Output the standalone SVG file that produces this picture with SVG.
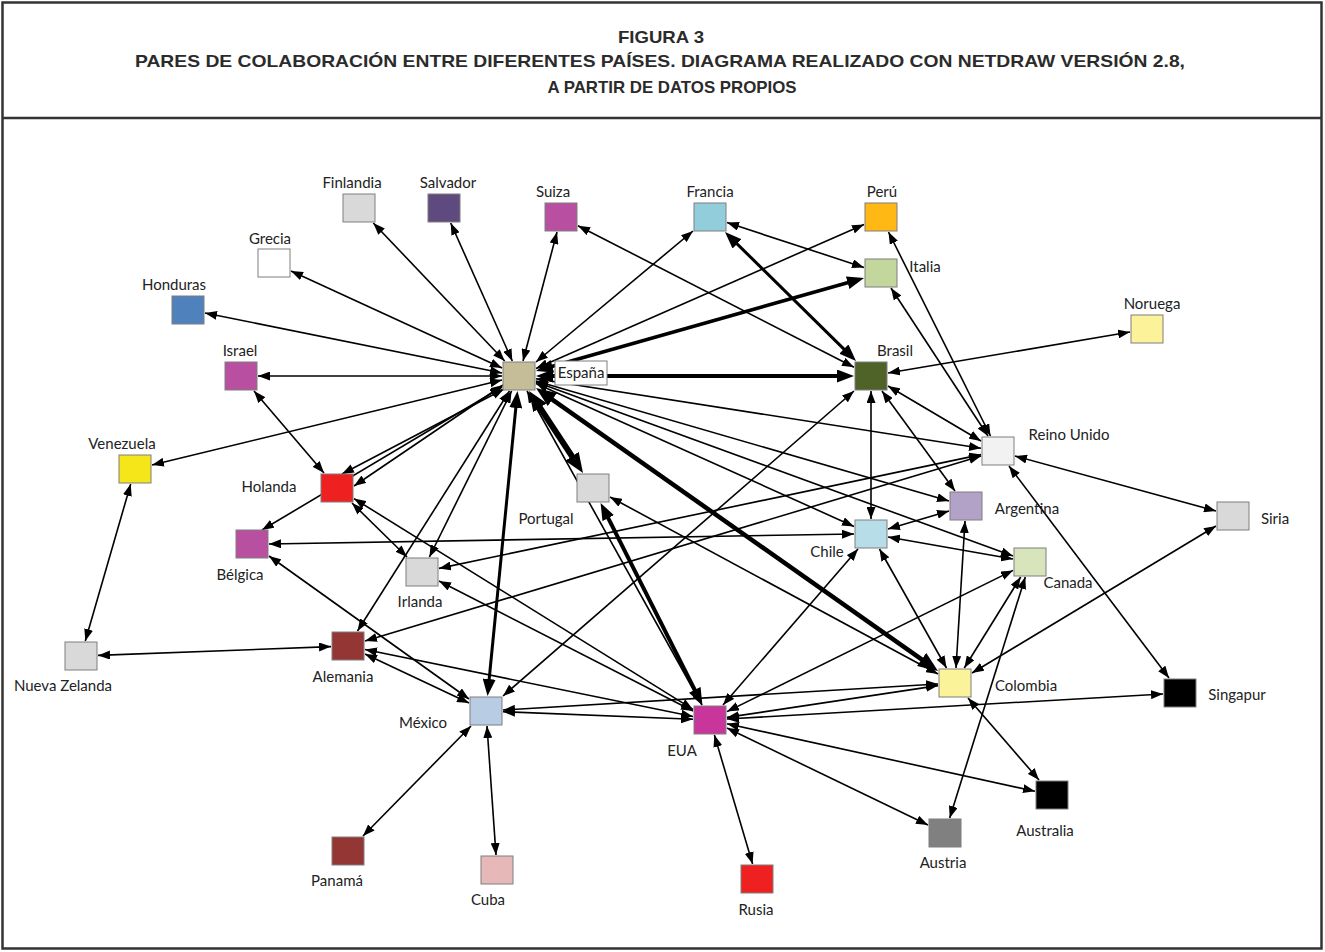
<svg xmlns="http://www.w3.org/2000/svg" width="1325" height="952" viewBox="0 0 1325 952">
<style>
.frame{fill:none;stroke:#333;stroke-width:2.5}
.ttl{font-family:"Liberation Sans",Arial,sans-serif;font-weight:bold;font-size:17px;fill:#2b2b2b;text-anchor:middle}
.e{stroke:#000;stroke-width:1.6;fill:none;marker-start:url(#ma);marker-end:url(#ma)}
.tb{stroke:#000;fill:none;marker-start:url(#mb);marker-end:url(#mb)}
.tc{stroke:#000;fill:none;marker-start:url(#mc);marker-end:url(#mc)}
.n rect{stroke:#7f7f7f;stroke-width:1}
.lb{font-family:Lato,"Open Sans",sans-serif;font-size:15px;fill:#222;text-anchor:middle}
</style>
<defs>
<marker id="ma" viewBox="0 0 12 9" refX="12" refY="4.5" markerWidth="12" markerHeight="9" markerUnits="userSpaceOnUse" orient="auto-start-reverse"><path d="M0,0 L12,4.5 L0,9 z" fill="#000"/></marker>
<marker id="mb" viewBox="0 0 17 13" refX="9" refY="6.5" markerWidth="17" markerHeight="13" markerUnits="userSpaceOnUse" orient="auto-start-reverse"><path d="M0,0 L17,6.5 L0,13 z" fill="#000"/></marker>
<marker id="mc" viewBox="0 0 20 16" refX="10" refY="8" markerWidth="20" markerHeight="16" markerUnits="userSpaceOnUse" orient="auto-start-reverse"><path d="M0,0 L20,8 L0,16 z" fill="#000"/></marker>
</defs>
<rect width="1325" height="952" fill="#fff"/>
<g id="header">
<rect class="frame" x="2.5" y="2.5" width="1319" height="946"/>
<line x1="2" y1="118" x2="1322" y2="118" stroke="#333" stroke-width="2.5"/>
<text class="ttl" x="661" y="43" textLength="86" lengthAdjust="spacingAndGlyphs">FIGURA 3</text>
<text class="ttl" x="660" y="67" textLength="1050" lengthAdjust="spacingAndGlyphs">PARES DE COLABORACIÓN ENTRE DIFERENTES PAÍSES. DIAGRAMA REALIZADO CON NETDRAW VERSIÓN 2.8,</text>
<text class="ttl" x="672" y="93" textLength="249" lengthAdjust="spacingAndGlyphs">A PARTIR DE DATOS PROPIOS</text>
</g>
<g id="connectors">
<line class="e" x1="504.7" y1="361" x2="373.3" y2="223"/>
<line class="e" x1="512.3" y1="361" x2="450.7" y2="223"/>
<line class="e" x1="523" y1="361" x2="557" y2="232"/>
<line class="e" x1="536" y1="362" x2="693" y2="231"/>
<line class="e" x1="536" y1="368.5" x2="864" y2="224.5"/>
<line class="e" x1="502" y1="368" x2="291" y2="271"/>
<line class="e" x1="502" y1="373" x2="205" y2="313"/>
<line class="e" x1="502" y1="376" x2="258" y2="376"/>
<line class="e" x1="502" y1="380" x2="152" y2="465"/>
<line class="e" x1="503" y1="385" x2="354" y2="486"/>
<line class="e" x1="504" y1="389" x2="342" y2="474"/>
<line class="e" x1="502" y1="387" x2="262" y2="530"/>
<line class="e" x1="509.5" y1="391" x2="357.5" y2="631"/>
<line class="e" x1="511.6" y1="391" x2="429.4" y2="557"/>
<line class="e" x1="527" y1="391" x2="702" y2="705"/>
<line class="e" x1="536" y1="378.7" x2="981" y2="448.3"/>
<line class="e" x1="536" y1="381" x2="949" y2="501"/>
<line class="e" x1="536" y1="383.6" x2="854" y2="526.4"/>
<line class="e" x1="536" y1="382" x2="1013" y2="556"/>
<line class="e" x1="578" y1="225.7" x2="854" y2="367.3"/>
<line class="e" x1="727" y1="222.6" x2="864" y2="267.4"/>
<line class="e" x1="888.5" y1="232" x2="990.5" y2="436"/>
<line class="e" x1="891" y1="288" x2="988" y2="436"/>
<line class="e" x1="888" y1="373" x2="1130" y2="332"/>
<line class="e" x1="888" y1="386" x2="981" y2="441"/>
<line class="e" x1="871" y1="391" x2="871" y2="519"/>
<line class="e" x1="882" y1="391" x2="955" y2="491"/>
<line class="e" x1="854" y1="391" x2="503" y2="696"/>
<line class="e" x1="1015" y1="456" x2="1216" y2="511"/>
<line class="e" x1="1009" y1="466" x2="1169" y2="678"/>
<line class="e" x1="981" y1="454.6" x2="439" y2="568.4"/>
<line class="e" x1="981" y1="456" x2="365" y2="641"/>
<line class="e" x1="888" y1="529" x2="949" y2="511"/>
<line class="e" x1="888" y1="537" x2="1013" y2="559"/>
<line class="e" x1="879.5" y1="549" x2="946.5" y2="668"/>
<line class="e" x1="858" y1="549" x2="723" y2="705"/>
<line class="e" x1="1020.7" y1="577" x2="964.3" y2="668"/>
<line class="e" x1="1025.3" y1="577" x2="949.7" y2="818"/>
<line class="e" x1="1013" y1="570.4" x2="727" y2="711.6"/>
<line class="e" x1="965" y1="521" x2="956" y2="668"/>
<line class="e" x1="1216" y1="526" x2="972" y2="673"/>
<line class="e" x1="968" y1="698" x2="1039" y2="780"/>
<line class="e" x1="938" y1="684" x2="503" y2="710"/>
<line class="e" x1="938" y1="685.6" x2="727" y2="717.4"/>
<line class="e" x1="1163" y1="694" x2="727" y2="719"/>
<line class="e" x1="727" y1="723.7" x2="1035" y2="791.3"/>
<line class="e" x1="727" y1="728" x2="928" y2="825"/>
<line class="e" x1="714.4" y1="735" x2="752.6" y2="864"/>
<line class="e" x1="471" y1="726" x2="363" y2="836"/>
<line class="e" x1="487" y1="726" x2="496" y2="855"/>
<line class="e" x1="503" y1="711.7" x2="693" y2="719.3"/>
<line class="e" x1="365" y1="654" x2="469" y2="703"/>
<line class="e" x1="365" y1="649.5" x2="693" y2="716.5"/>
<line class="e" x1="331" y1="646.6" x2="98" y2="655.4"/>
<line class="e" x1="130.7" y1="484" x2="85.3" y2="641"/>
<line class="e" x1="254" y1="391" x2="324" y2="473"/>
<line class="e" x1="352" y1="503" x2="407" y2="557"/>
<line class="e" x1="354" y1="498.6" x2="693" y2="709.4"/>
<line class="e" x1="269" y1="556" x2="469" y2="699"/>
<line class="e" x1="269" y1="544" x2="854" y2="534"/>
<line class="e" x1="439" y1="581" x2="693" y2="711"/>
<line class="e" x1="610" y1="497" x2="938" y2="674"/>
<line class="tb" stroke-width="3.5" x1="543.7" y1="368.8" x2="856.3" y2="280.2"/>
<line class="tb" stroke-width="4" x1="544" y1="376" x2="846" y2="376"/>
<line class="tb" stroke-width="3" x1="516.7" y1="399" x2="488.3" y2="688"/>
<line class="tc" stroke-width="6" x1="534.5" y1="399.4" x2="577.5" y2="464.6"/>
<line class="tc" stroke-width="4.5" x1="544.2" y1="393.8" x2="929.8" y2="665.2"/>
<line class="tb" stroke-width="3" x1="730.7" y1="237.6" x2="850.3" y2="355.4"/>
<line class="tb" stroke-width="4" x1="604.2" y1="510.1" x2="698.8" y2="697.9"/>
</g>
<g id="n-finlandia" class="n"><rect x="343" y="194" width="32" height="28" fill="#d9d9d9"/><text class="lb" x="352" y="188">Finlandia</text></g>
<g id="n-salvador" class="n"><rect x="428" y="194" width="32" height="28" fill="#5f4a7f"/><text class="lb" x="448" y="188">Salvador</text></g>
<g id="n-suiza" class="n"><rect x="545" y="203" width="32" height="28" fill="#b84fa0"/><text class="lb" x="553" y="197">Suiza</text></g>
<g id="n-francia" class="n"><rect x="694" y="203" width="32" height="28" fill="#92cddc"/><text class="lb" x="710" y="197">Francia</text></g>
<g id="n-peru" class="n"><rect x="865" y="203" width="32" height="28" fill="#ffb814"/><text class="lb" x="882" y="197">Perú</text></g>
<g id="n-italia" class="n"><rect x="865" y="259" width="32" height="28" fill="#c3d69b"/><text class="lb" x="925" y="272">Italia</text></g>
<g id="n-grecia" class="n"><rect x="258" y="249" width="32" height="28" fill="#ffffff"/><text class="lb" x="270" y="244">Grecia</text></g>
<g id="n-honduras" class="n"><rect x="172" y="296" width="32" height="28" fill="#4f81bd"/><text class="lb" x="174" y="290">Honduras</text></g>
<g id="n-noruega" class="n"><rect x="1131" y="315" width="32" height="28" fill="#fcf29a"/><text class="lb" x="1152" y="309">Noruega</text></g>
<g id="n-israel" class="n"><rect x="225" y="362" width="32" height="28" fill="#b84fa0"/><text class="lb" x="240" y="356">Israel</text></g>
<g id="n-espana" class="n"><rect x="503" y="362" width="32" height="28" fill="#c4bd97"/><rect x="555" y="361" width="52" height="24" fill="#fff" stroke="#000"/><text class="lb" x="581" y="378">España</text></g>
<g id="n-brasil" class="n"><rect x="855" y="362" width="32" height="28" fill="#4f6228"/><text class="lb" x="895" y="356">Brasil</text></g>
<g id="n-reinounido" class="n"><rect x="982" y="437" width="32" height="28" fill="#f2f2f2"/><text class="lb" x="1069" y="440">Reino Unido</text></g>
<g id="n-venezuela" class="n"><rect x="119" y="455" width="32" height="28" fill="#f5e61a"/><text class="lb" x="122" y="449">Venezuela</text></g>
<g id="n-holanda" class="n"><rect x="321" y="474" width="32" height="28" fill="#ee2020"/><text class="lb" x="269" y="492">Holanda</text></g>
<g id="n-portugal" class="n"><rect x="577" y="474" width="32" height="28" fill="#d9d9d9"/><text class="lb" x="546" y="524">Portugal</text></g>
<g id="n-argentina" class="n"><rect x="950" y="492" width="32" height="28" fill="#b2a2c7"/><text class="lb" x="1027" y="514">Argentina</text></g>
<g id="n-siria" class="n"><rect x="1217" y="502" width="32" height="28" fill="#d9d9d9"/><text class="lb" x="1275" y="524">Siria</text></g>
<g id="n-belgica" class="n"><rect x="236" y="530" width="32" height="28" fill="#b84fa0"/><text class="lb" x="240" y="580">Bélgica</text></g>
<g id="n-chile" class="n"><rect x="855" y="520" width="32" height="28" fill="#b7dde8"/><text class="lb" x="827" y="557">Chile</text></g>
<g id="n-irlanda" class="n"><rect x="406" y="558" width="32" height="28" fill="#d9d9d9"/><text class="lb" x="420" y="607">Irlanda</text></g>
<g id="n-canada" class="n"><rect x="1014" y="548" width="32" height="28" fill="#d7e4bc"/><text class="lb" x="1068" y="588">Canada</text></g>
<g id="n-nuevazelanda" class="n"><rect x="65" y="642" width="32" height="28" fill="#d9d9d9"/><text class="lb" x="63" y="691">Nueva Zelanda</text></g>
<g id="n-alemania" class="n"><rect x="332" y="632" width="32" height="28" fill="#943634"/><text class="lb" x="343" y="682">Alemania</text></g>
<g id="n-colombia" class="n"><rect x="939" y="669" width="32" height="28" fill="#faf39a"/><text class="lb" x="1026" y="691">Colombia</text></g>
<g id="n-singapur" class="n"><rect x="1164" y="679" width="32" height="28" fill="#000000"/><text class="lb" x="1237" y="700">Singapur</text></g>
<g id="n-mexico" class="n"><rect x="470" y="697" width="32" height="28" fill="#b8cce4"/><text class="lb" x="423" y="728">México</text></g>
<g id="n-eua" class="n"><rect x="694" y="706" width="32" height="28" fill="#c9369b"/><text class="lb" x="682" y="756">EUA</text></g>
<g id="n-australia" class="n"><rect x="1036" y="781" width="32" height="28" fill="#000000"/><text class="lb" x="1045" y="836">Australia</text></g>
<g id="n-austria" class="n"><rect x="929" y="819" width="32" height="28" fill="#808080"/><text class="lb" x="943" y="868">Austria</text></g>
<g id="n-panama" class="n"><rect x="332" y="837" width="32" height="28" fill="#943634"/><text class="lb" x="337" y="886">Panamá</text></g>
<g id="n-cuba" class="n"><rect x="481" y="856" width="32" height="28" fill="#e6b9b8"/><text class="lb" x="488" y="905">Cuba</text></g>
<g id="n-rusia" class="n"><rect x="741" y="865" width="32" height="28" fill="#ee2020"/><text class="lb" x="756" y="915">Rusia</text></g>
</svg>
